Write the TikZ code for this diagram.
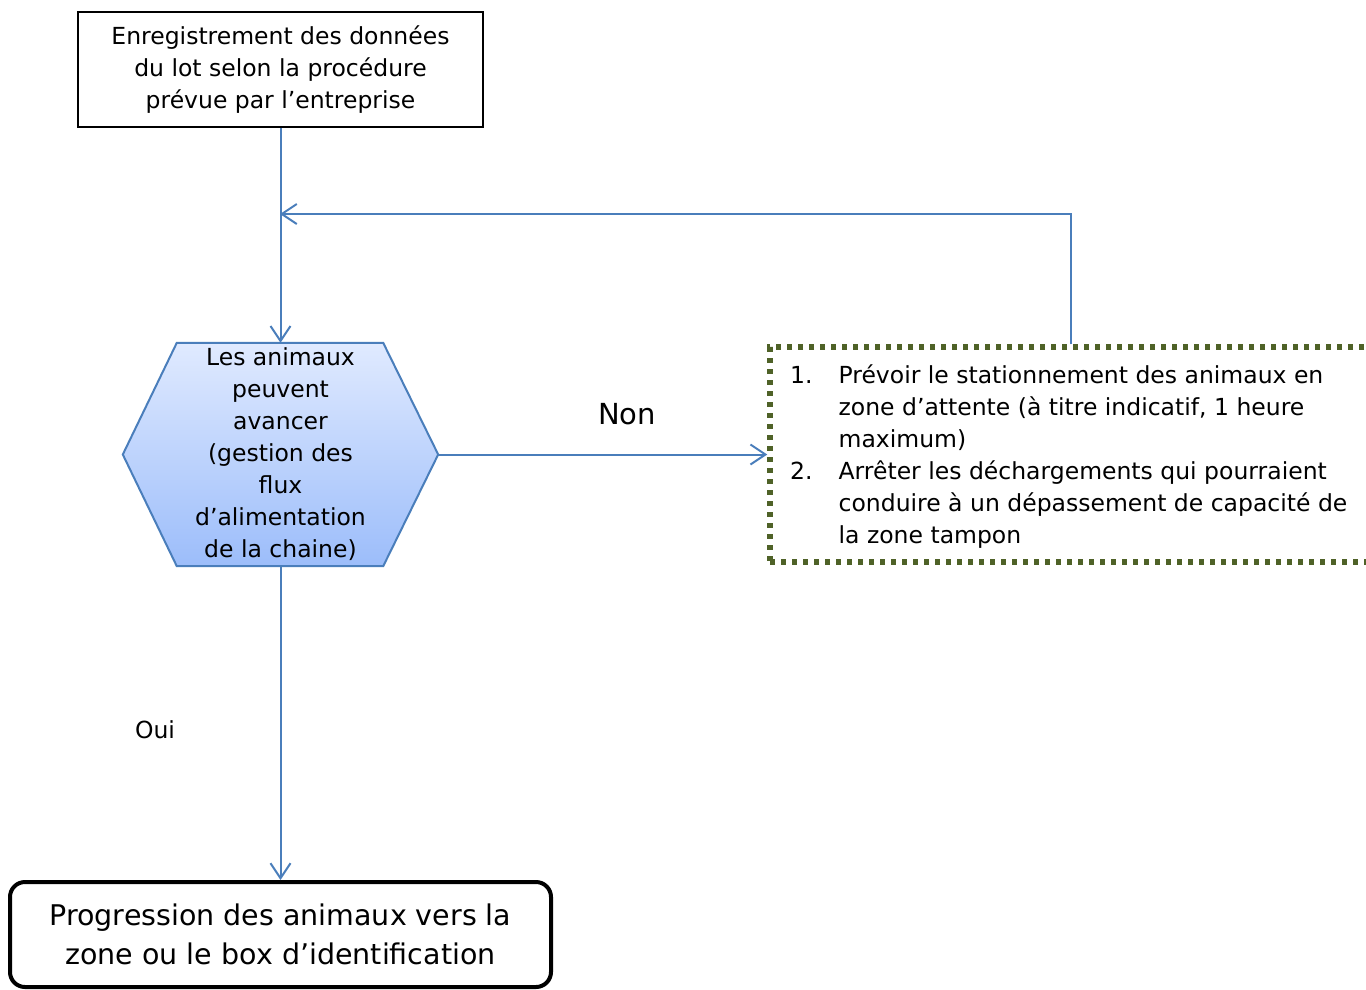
\documentclass[tikz,border=0pt]{standalone}
\usepackage{fontspec}
\setmainfont{DejaVu Sans}
\usepackage{tikz}
\usetikzlibrary{arrows.meta,backgrounds}

\definecolor{linkblue}{RGB}{74,126,187}
\definecolor{hextop}{RGB}{224,234,255}
\definecolor{hexbottom}{RGB}{156,189,250}
\definecolor{olive}{RGB}{79,98,40}

\begin{document}
\begin{tikzpicture}[x=1pt, y=-1pt,
    every node/.style={font=\fontsize{23.5}{32}\selectfont},
    regbox/.style={draw, line width=1.5pt, minimum width=405pt, minimum height=115pt, align=center, inner sep=0pt},
    hexbox/.style={minimum width=315pt, minimum height=223pt, align=center, inner sep=0pt},
    waitbox/.style={draw=olive, line width=5.5pt, dash pattern=on 5pt off 6pt, minimum width=602pt, minimum height=215pt},
    progbox/.style={draw, line width=4pt, rounded corners=15pt, minimum width=541pt, minimum height=105pt, align=center, inner sep=0pt,
        font=\fontsize{28.5}{39}\selectfont},
    link/.style={draw=linkblue, line width=2pt, -{Straight Barb[length=15pt,width=20pt]}}]

      \useasboundingbox (0,0) rectangle (1366,989);

      \node[regbox] (reg) at (280.5,69.5) {Enregistrement des données\\du lot selon la procédure\\prévue par l’entreprise};

      \node[hexbox] (hex) at (280.5,454.5) {Les animaux\\peuvent\\avancer\\(gestion des\\flux\\d’alimentation\\de la chaine)};
      \begin{scope}[on background layer]
        \path[draw=linkblue, line width=2pt, top color=hextop, bottom color=hexbottom]
          (hex.west) -- ([xshift=54pt]hex.north west) -- ([xshift=-55pt]hex.north east)
          -- (hex.east) -- ([xshift=-55pt]hex.south east) -- ([xshift=54pt]hex.south west) -- cycle;
      \end{scope}

      \node[waitbox] (wait) at (1071,454.5) {};
      \node[anchor=west, inner sep=0pt] (steps) at (790,457) {%
        \begin{tabular}{@{}l@{\hspace{26pt}}l@{}}
          1. & Prévoir le stationnement des animaux en\\
             & zone d’attente (à titre indicatif, 1 heure\\
             & maximum)\\
          2. & Arrêter les déchargements qui pourraient\\
             & conduire à un dépassement de capacité de\\
             & la zone tampon
        \end{tabular}};

      \node[progbox] (prog) at (280.5,934.5) {Progression des animaux vers la\\zone ou le box d’identification};

      \node[font=\fontsize{29}{32}\selectfont] (non) at (627,414) {Non};
      \node (oui) at (155,730) {Oui};

      \coordinate (back) at (280,214);

      \draw[link] (reg.south) -- (hex.north);
      \draw[link] (hex.east) -- (wait.west);
      \draw[link] (wait.north) |- (back);
      \draw[link] (hex.south) -- (prog.north);
    \end{tikzpicture}
\end{document}
